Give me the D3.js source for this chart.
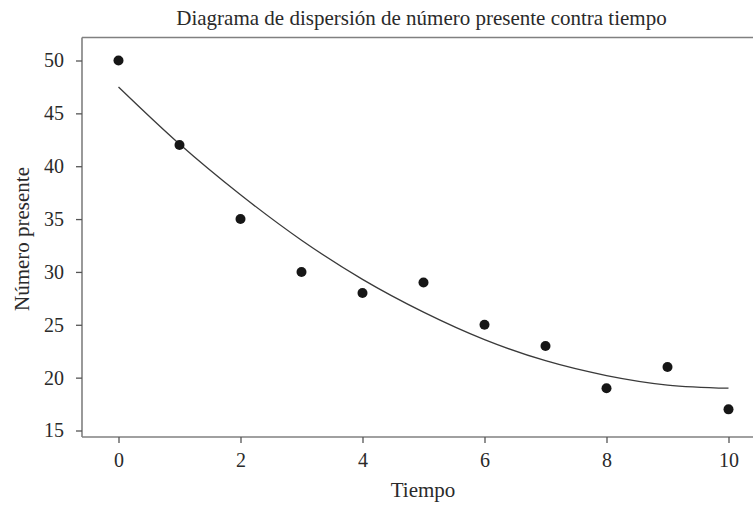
<!DOCTYPE html>
<html>
<head>
<meta charset="utf-8">
<script src="https://cdn.jsdelivr.net/npm/d3@7"></script>
<style>
  html, body { margin: 0; padding: 0; background: #fff; }
  svg { display: block; }
  text { font-family: "Liberation Serif", "DejaVu Serif", serif; fill: #2a2a2a; }
</style>
</head>
<body>
<svg id="chart" width="753" height="506"></svg>
<script>
// Data
const tiempo = [0, 1, 2, 3, 4, 5, 6, 7, 8, 9, 10];
const numeroPresente = [50, 42, 35, 30, 28, 29, 25, 23, 19, 21, 17];
// fitted curve values read at each time
const ajuste = [47.5, 42.1, 37.3, 33.0, 29.3, 26.2, 23.6, 21.6, 20.2, 19.3, 19.0];
const xTicks = [0, 2, 4, 6, 8, 10];
const yTicks = [15, 20, 25, 30, 35, 40, 45, 50];
const titulo = "Diagrama de dispersión de número presente contra tiempo";
const xTitulo = "Tiempo";
const yTitulo = "Número presente";

const svg = d3.select("#chart");
const frame = { left: 82, top: 37.5, right: 753, bottom: 437 };
const serif = "'Liberation Serif', 'DejaVu Serif', serif";

const x = d3.scaleLinear().domain([0, 10]).range([118.5, 728.5]);
const y = d3.scaleLinear().domain([15, 50]).range([430.5, 60.5]);

// frame top line
svg.append("line")
  .attr("x1", frame.left).attr("x2", frame.right)
  .attr("y1", frame.top).attr("y2", frame.top)
  .attr("stroke", "#808080").attr("stroke-width", 1.6);

// x axis
const xAxis = svg.append("g")
  .attr("transform", `translate(0,${frame.bottom})`)
  .call(d3.axisBottom(x).tickValues(xTicks).tickSize(6).tickPadding(10).tickFormat(d3.format("d")))
  .attr("font-family", serif).attr("font-size", 20);
xAxis.select(".domain").attr("d", `M${frame.left},0H${frame.right}`)
  .attr("stroke", "#808080").attr("stroke-width", 1.6);
xAxis.selectAll(".tick line").attr("stroke", "#555").attr("stroke-width", 1.3);
xAxis.selectAll(".tick text").attr("fill", "#2a2a2a");

// y axis
const yAxis = svg.append("g")
  .attr("transform", `translate(${frame.left},0)`)
  .call(d3.axisLeft(y).tickValues(yTicks).tickSize(6).tickPadding(12).tickFormat(d3.format("d")))
  .attr("font-family", serif).attr("font-size", 20);
yAxis.select(".domain").attr("d", `M0,${frame.top}V${frame.bottom}`)
  .attr("stroke", "#808080").attr("stroke-width", 1.6);
yAxis.selectAll(".tick line").attr("stroke", "#555").attr("stroke-width", 1.3);
yAxis.selectAll(".tick text").attr("fill", "#2a2a2a");

// fitted curve
const line = d3.line()
  .x((d, i) => x(tiempo[i]))
  .y(d => y(d))
  .curve(d3.curveMonotoneX);
svg.append("path")
  .datum(ajuste)
  .attr("d", line)
  .attr("fill", "none")
  .attr("stroke", "#3a3a3a")
  .attr("stroke-width", 1.3);

// points
svg.append("g").selectAll("circle")
  .data(numeroPresente)
  .join("circle")
  .attr("cx", (d, i) => x(tiempo[i]))
  .attr("cy", d => y(d))
  .attr("r", 5)
  .attr("fill", "#161616");

// title
svg.append("text")
  .attr("x", 421.5).attr("y", 25)
  .attr("text-anchor", "middle")
  .style("font-size", "21px")
  .text(titulo);

// x title
svg.append("text")
  .attr("x", 423).attr("y", 497)
  .attr("text-anchor", "middle")
  .style("font-size", "21px")
  .text(xTitulo);

// y title
svg.append("text")
  .attr("transform", `translate(29,239) rotate(-90)`)
  .attr("text-anchor", "middle")
  .style("font-size", "21px")
  .text(yTitulo);
</script>
</body>
</html>
